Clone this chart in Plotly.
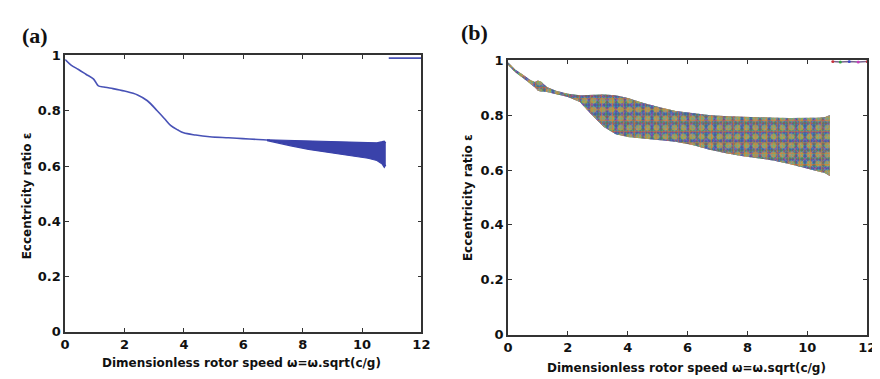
import plotly.graph_objects as go

# ---------------- data ----------------
# panel (a): steady curve then oscillation band
a_line_x = [0.0, 0.2, 0.45, 0.7, 0.95, 1.02, 1.12, 1.3, 1.56, 2.0, 2.44, 2.77, 3.1, 3.35, 3.55, 3.8, 3.99, 4.4, 4.87, 5.5, 5.98, 6.5, 6.9]
a_line_y = [0.985, 0.965, 0.949, 0.932, 0.915, 0.905, 0.89, 0.886, 0.881, 0.871, 0.857, 0.836, 0.8, 0.771, 0.747, 0.73, 0.72, 0.712, 0.706, 0.702, 0.699, 0.696, 0.693]
a_band_x = [6.8, 7.2, 7.6, 8.2, 8.8, 9.3, 9.8, 10.2, 10.5, 10.68, 10.75, 10.8]
a_band_hi = [0.695, 0.694, 0.692, 0.69, 0.689, 0.687, 0.685, 0.684, 0.684, 0.688, 0.69, 0.684]
a_band_lo = [0.692, 0.682, 0.673, 0.66, 0.65, 0.643, 0.636, 0.628, 0.62, 0.607, 0.595, 0.604]
a_top_x = [10.9, 12.0]
a_top_y = [0.99, 0.99]

# panel (b): multi-frequency band
b_band_x = [0.0, 0.25, 0.5, 0.75, 0.9, 1.0, 1.1, 1.3, 1.6, 2.0, 2.4, 2.8, 3.2, 3.6, 4.0, 4.5, 5.0, 5.6, 6.2, 6.7, 7.2, 7.8, 8.4, 8.9, 9.4, 10.0, 10.4, 10.6, 10.75]
b_band_hi = [0.992, 0.965, 0.947, 0.928, 0.92, 0.926, 0.922, 0.902, 0.889, 0.878, 0.872, 0.873, 0.875, 0.872, 0.862, 0.845, 0.83, 0.815, 0.806, 0.8, 0.797, 0.794, 0.792, 0.79, 0.789, 0.789, 0.79, 0.793, 0.8]
b_band_lo = [0.982, 0.955, 0.935, 0.915, 0.9, 0.889, 0.886, 0.884, 0.877, 0.866, 0.848, 0.8, 0.757, 0.73, 0.72, 0.715, 0.71, 0.703, 0.69, 0.675, 0.663, 0.651, 0.642, 0.634, 0.622, 0.605, 0.595, 0.588, 0.578]
b_top_x = [10.85, 11.1, 11.4, 11.7, 12.0]
b_top_y = [0.995, 0.993, 0.995, 0.993, 0.995]

x_ticks = [0, 2, 4, 6, 8, 10, 12]
y_ticks = [0, 0.2, 0.4, 0.6, 0.8, 1]
y_tick_text = ["0", "0.2", "0.4", "0.6", "0.8", "1"]
x_title = "Dimensionless rotor speed ω=ω.sqrt(c/g)"
y_title = "Eccentricity ratio ε"

# ---------------- figure ----------------
fig = go.Figure()
BLUE = "rgb(72,82,182)"
BAND_BLUE = "rgb(58,66,170)"

fig.add_trace(go.Scatter(x=a_line_x, y=a_line_y, mode="lines",
                         line=dict(color=BLUE, width=1.6, shape="spline"),
                         xaxis="x", yaxis="y", showlegend=False))
fig.add_trace(go.Scatter(x=a_band_x, y=a_band_lo, mode="lines",
                         line=dict(color=BAND_BLUE, width=1.2),
                         xaxis="x", yaxis="y", showlegend=False))
fig.add_trace(go.Scatter(x=a_band_x, y=a_band_hi, mode="lines", fill="tonexty",
                         fillcolor=BAND_BLUE, line=dict(color=BAND_BLUE, width=1.2),
                         xaxis="x", yaxis="y", showlegend=False))
fig.add_trace(go.Scatter(x=a_top_x, y=a_top_y, mode="lines",
                         line=dict(color=BLUE, width=1.6),
                         xaxis="x", yaxis="y", showlegend=False))

# panel (b) band: base fill + speckle patterns
patterns = [
    (None, "rgb(112,92,112)", None, 0, 0),
    ("rgb(225,40,55)", None, "x", 5, 0.35),
    ("rgb(40,175,60)", None, ".", 4, 0.5),
    ("rgb(45,70,215)", None, ".", 7, 0.45),
    ("rgb(215,60,205)", None, "x", 7, 0.25),
    ("rgb(235,205,40)", None, ".", 9, 0.35),
    ("rgb(40,195,205)", None, ".", 3, 0.3),
    ("rgb(230,120,40)", None, "+", 11, 0.2),
]
for fg, base, shape, size, sol in patterns:
    fig.add_trace(go.Scatter(x=b_band_x, y=b_band_lo, mode="lines",
                             line=dict(width=0), xaxis="x2", yaxis="y2",
                             showlegend=False, hoverinfo="skip"))
    if base is not None:
        fig.add_trace(go.Scatter(x=b_band_x, y=b_band_hi, mode="lines", fill="tonexty",
                                 fillcolor=base, line=dict(width=0),
                                 xaxis="x2", yaxis="y2", showlegend=False, hoverinfo="skip"))
    else:
        fig.add_trace(go.Scatter(x=b_band_x, y=b_band_hi, mode="lines", fill="tonexty",
                                 fillcolor="rgba(0,0,0,0)",
                                 fillpattern=dict(shape=shape, fgcolor=fg,
                                                  bgcolor="rgba(0,0,0,0)",
                                                  size=size, solidity=sol),
                                 line=dict(width=0),
                                 xaxis="x2", yaxis="y2", showlegend=False, hoverinfo="skip"))

fig.add_trace(go.Scatter(x=b_top_x, y=b_top_y, mode="lines+markers",
                         line=dict(color="rgb(120,100,140)", width=1.5),
                         marker=dict(size=3, color=["rgb(200,50,60)", "rgb(50,160,70)", "rgb(60,70,200)",
                                                    "rgb(200,60,190)", "rgb(200,50,60)"]),
                         xaxis="x2", yaxis="y2", showlegend=False))

TICKFONT = dict(family="DejaVu Sans", size=13, color="#111")
axis_common = dict(range=[0, 12], tickvals=x_ticks, ticktext=["<b>%d</b>" % v for v in x_ticks],
                   showline=True, linecolor="#333", linewidth=1.5, mirror="ticks",
                   ticks="inside", ticklen=4, tickcolor="#333", showgrid=False, zeroline=False,
                   tickfont=TICKFONT)
yaxis_common = dict(range=[0, 1], tickvals=y_ticks, ticktext=["<b>%s</b>" % t for t in y_tick_text],
                    showline=True, linecolor="#333", linewidth=1.5, mirror="ticks",
                    ticks="inside", ticklen=4, tickcolor="#333", showgrid=False, zeroline=False,
                    tickfont=TICKFONT)

fig.update_layout(
    width=880, height=379,
    margin=dict(l=0, r=0, t=0, b=0),
    paper_bgcolor="white", plot_bgcolor="white",
    xaxis=dict(domain=[0.0602, 0.4716], anchor="y", **axis_common),
    yaxis=dict(domain=[0.1293, 0.889], anchor="x", **yaxis_common),
    xaxis2=dict(domain=[0.5716, 0.9864], anchor="y2", **axis_common),
    yaxis2=dict(domain=[0.1214, 0.876], anchor="x2", **yaxis_common),
)

font_b = dict(family="DejaVu Sans", size=12, color="#111")
lab_font = dict(family="Liberation Serif", size=22, color="#111")
ann = [
    dict(text="<b>(a)</b>", x=22, y=21, font=lab_font),
    dict(text="<b>(b)</b>", x=469, y=18, font=lab_font),
    dict(text="<b>" + x_title + "</b>", x=232, y=362, font=font_b),
    dict(text="<b>" + x_title + "</b>", x=684, y=368, font=font_b),
]
for a in ann:
    fig.add_annotation(text=a["text"], x=a["x"] / 880, y=1 - a["y"] / 379, xref="paper", yref="paper",
                       xanchor="center", yanchor="middle", showarrow=False, font=a["font"])
fig.add_annotation(text="<b>" + y_title + "</b>", x=14 / 880, y=1 - 188 / 379, xref="paper", yref="paper",
                   textangle=-90, showarrow=False, font=font_b, xanchor="center", yanchor="middle")
fig.add_annotation(text="<b>" + y_title + "</b>", x=463 / 880, y=1 - 190 / 379, xref="paper", yref="paper",
                   textangle=-90, showarrow=False, font=font_b, xanchor="center", yanchor="middle")

fig.write_html("out.html")
